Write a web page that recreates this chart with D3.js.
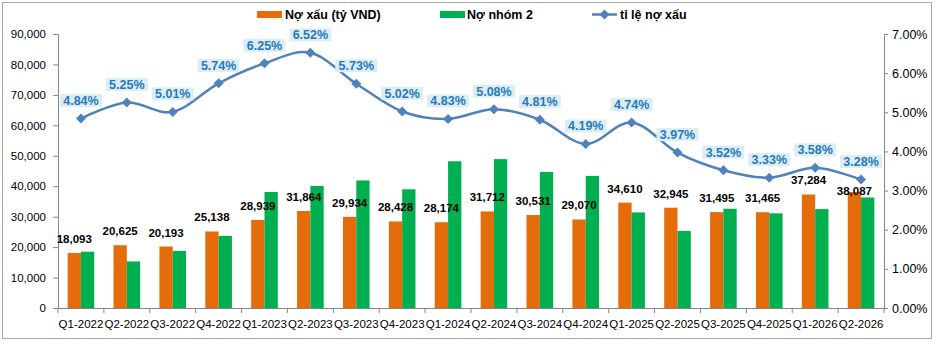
<html>
  <script src="https://d3js.org/d3.v7.min.js"></script>
  <body style="margin:0">
    <script>
      // chart data
      let categories = ["Q1-2022", "Q2-2022", "Q3-2022", "Q4-2022", "Q1-2023", "Q2-2023", "Q3-2023", "Q4-2023", "Q1-2024",
                        "Q2-2024", "Q3-2024", "Q4-2024", "Q1-2025", "Q2-2025", "Q3-2025", "Q4-2025", "Q1-2026", "Q2-2026"];
      let badDebt = [18093, 20625, 20193, 25138, 28939, 31864, 29934, 28428, 28174, 31712, 30531, 29070, 34610, 32945, 31495, 31465, 37284, 38087];
      let group2Debt = [18500, 15300, 18750, 23700, 38100, 40100, 41900, 39000, 48200, 48900, 44700, 43400, 31400, 25300, 32600, 31100, 32500, 36300];
      let badDebtRatio = [4.84, 5.25, 5.01, 5.74, 6.25, 6.52, 5.73, 5.02, 4.83, 5.08, 4.81, 4.19, 4.74, 3.97, 3.52, 3.33, 3.58, 3.28];
      let leftTicks = [0, 10000, 20000, 30000, 40000, 50000, 60000, 70000, 80000, 90000];
      let rightTicks = [0, 1, 2, 3, 4, 5, 6, 7];
      let seriesNames = ["Nợ xấu (tỷ VND)", "Nợ nhóm 2", "tỉ lệ nợ xấu"];

      let width = 940, height = 344;
      let orange = "#E46C0A", green = "#00B050", blue = "#4F81BD";
      let font = "'Liberation Sans', Arial, sans-serif";

      let svg = d3.select("body").append("svg")
                  .attr("width", width)
                  .attr("height", height)
                  .style("font-family", font);

      svg.append("rect")
         .attr("x", 2.5).attr("y", 2.5)
         .attr("width", 929).attr("height", 336)
         .attr("fill", "white")
         .attr("stroke", "#a6a6a6");

      let x = d3.scaleBand()
                .domain(categories)
                .range([58, 884])
                .paddingInner(0.42)
                .paddingOuter(0.21);
      let xSeries = d3.scaleBand()
                      .domain([0, 1])
                      .range([0, x.bandwidth()]);
      let y = d3.scaleLinear().domain([0, 90000]).range([308, 34]);
      let yRight = d3.scaleLinear().domain([0, 7]).range([308, 34]);

      // axes
      let leftAxis = svg.append("g")
         .attr("transform", "translate(58,0)")
         .call(d3.axisLeft(y).tickValues(leftTicks).tickSize(5).tickPadding(7)
                 .tickFormat(d3.format(",")));
      let rightAxis = svg.append("g")
         .attr("transform", "translate(884,0)")
         .call(d3.axisRight(yRight).tickValues(rightTicks).tickSize(4).tickPadding(4)
                 .tickFormat(d => d3.format(".2f")(d) + "%"));
      let bottomAxis = svg.append("g")
         .attr("transform", "translate(0,308)")
         .call(d3.axisBottom(x).tickSize(0).tickPadding(12));
      // tick marks between categories
      let step = x.step();
      bottomAxis.selectAll(".sep")
         .data(d3.range(categories.length + 1))
         .join("line")
         .attr("x1", i => x.range()[0] + i * step)
         .attr("x2", i => x.range()[0] + i * step)
         .attr("y1", 0).attr("y2", 5)
         .attr("stroke", "#868686");
      [leftAxis, rightAxis, bottomAxis].forEach(a => {
        a.selectAll("path, line").attr("stroke", "#868686");
        a.selectAll("text").attr("fill", "#000").style("font-size", "11.5px").style("font-family", font);
      });
      rightAxis.selectAll("text").style("font-size", "12.5px");

      // bars
      let groups = svg.append("g").selectAll("g")
         .data(categories)
         .join("g")
         .attr("transform", c => `translate(${x(c)},0)`);
      groups.append("rect")
         .attr("x", xSeries(0))
         .attr("width", xSeries.bandwidth())
         .attr("y", (c, i) => y(badDebt[i]))
         .attr("height", (c, i) => y(0) - y(badDebt[i]))
         .attr("fill", orange);
      groups.append("rect")
         .attr("x", xSeries(1))
         .attr("width", xSeries.bandwidth())
         .attr("y", (c, i) => y(group2Debt[i]))
         .attr("height", (c, i) => y(0) - y(group2Debt[i]))
         .attr("fill", green);

      // ratio line
      let center = c => x(c) + x.bandwidth() / 2;
      let line = d3.line()
                   .x((d, i) => center(categories[i]))
                   .y(d => yRight(d))
                   .curve(d3.curveCardinal.tension(0));
      svg.append("path")
         .datum(badDebtRatio)
         .attr("d", line)
         .attr("fill", "none")
         .attr("stroke", blue)
         .attr("stroke-width", 2.5);
      let diamond = d3.symbol().type(d3.symbolSquare).size(50);
      svg.append("g").selectAll("path")
         .data(badDebtRatio)
         .join("path")
         .attr("d", diamond)
         .attr("transform", (d, i) => `translate(${center(categories[i])},${yRight(d)}) rotate(45)`)
         .attr("fill", blue);

      // ratio labels
      let labels = svg.append("g").selectAll("g")
         .data(badDebtRatio)
         .join("g")
         .attr("transform", (d, i) => `translate(${center(categories[i])},${yRight(d) - 18})`);
      labels.append("rect")
         .attr("x", -21).attr("y", -6.5)
         .attr("width", 42).attr("height", 13)
         .attr("fill", "#DAEEF3");
      labels.append("text")
         .attr("text-anchor", "middle")
         .attr("dy", "0.36em")
         .attr("fill", "#2878C0")
         .style("font-size", "12.5px")
         .style("font-weight", "bold")
         .text(d => d3.format(".2f")(d) + "%");

      // bar value labels, pushed below the line when they would collide with it
      let labelY = (c, i) => {
        let ly = y(badDebt[i]) - 10;
        let lineY = yRight(badDebtRatio[i]);
        return (ly - 9 < lineY + 5) ? lineY + 15 : ly;
      };
      svg.append("g").selectAll("text")
         .data(categories)
         .join("text")
         .attr("x", c => x(c) + xSeries(0) + xSeries.bandwidth() / 2)
         .attr("y", labelY)
         .attr("text-anchor", "middle")
         .style("font-size", "11.5px")
         .style("font-weight", "bold")
         .text((c, i) => d3.format(",")(badDebt[i]));

      // legend
      let legend = svg.append("g").style("font-size", "12.5px").style("font-weight", "bold");
      legend.append("rect").attr("x", 257).attr("y", 11).attr("width", 25).attr("height", 7).attr("fill", orange);
      legend.append("text").attr("x", 285).attr("y", 19).text(seriesNames[0]);
      legend.append("rect").attr("x", 440).attr("y", 11).attr("width", 25).attr("height", 7).attr("fill", green);
      legend.append("text").attr("x", 467).attr("y", 19).text(seriesNames[1]);
      legend.append("line").attr("x1", 592).attr("x2", 617).attr("y1", 14.5).attr("y2", 14.5)
            .attr("stroke", blue).attr("stroke-width", 2.5);
      legend.append("path").attr("d", diamond).attr("transform", "translate(604.5,14.5) rotate(45)").attr("fill", blue);
      legend.append("text").attr("x", 620).attr("y", 19).text(seriesNames[2]);
    </script>
  </body>
</html>
